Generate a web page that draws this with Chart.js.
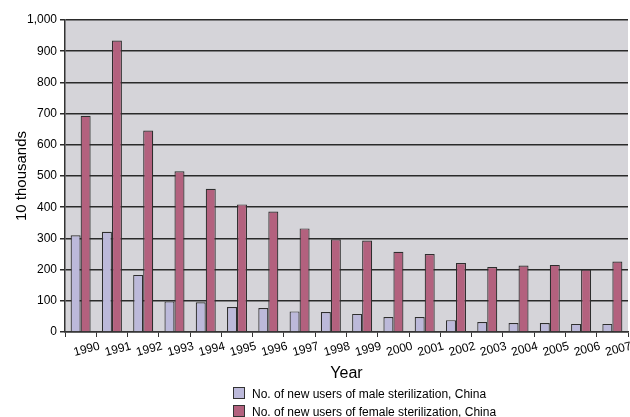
<!DOCTYPE html>
<html>
<head>
<meta charset="utf-8">
<script src="https://cdn.jsdelivr.net/npm/chart.js@4/dist/chart.umd.min.js"></script>
<style>
  html, body { margin: 0; padding: 0; background: #fff; }
  #wrap { position: relative; width: 630px; height: 417px; }
  #c { position: absolute; left: 0; top: 0; }
  .leg { position: absolute; left: 233px; font: 12px "Liberation Sans", Arial, sans-serif; color: #000; white-space: nowrap; }
  .leg span.box { display: inline-block; width: 10px; height: 10px; border: 1px solid #333; vertical-align: -1px; margin-right: 7px; }
</style>
</head>
<body>
<div id="wrap">
  <canvas id="c" width="630" height="417"></canvas>
  <div class="leg" id="leg1" style="top:387px"></div>
  <div class="leg" id="leg2" style="top:405px"></div>
</div>
<script>
const years = ["1990","1991","1992","1993","1994","1995","1996","1997","1998","1999","2000","2001","2002","2003","2004","2005","2006","2007"];
const maleUsers   = [310, 321, 183, 98, 95, 80, 77, 66, 64, 58, 48, 48, 38, 32, 29, 29, 26, 26];
const femaleUsers = [693, 934, 646, 515, 459, 409, 386, 332, 297, 293, 257, 250, 221, 208, 213, 215, 200, 226];
const maleLabel = "No. of new users of male sterilization, China";
const femaleLabel = "No. of new users of female sterilization, China";
const yTicks = [0, 100, 200, 300, 400, 500, 600, 700, 800, 900, 1000];

const maleColor = "#BCB9DA";
const femaleColor = "#B3617E";

const plotBg = {
  id: 'plotBg',
  beforeDraw(chart) {
    const {ctx, chartArea: a} = chart;
    ctx.save();
    ctx.fillStyle = '#D5D4D9';
    ctx.fillRect(a.left, a.top, a.right - a.left, a.bottom - a.top);
    ctx.restore();
  }
};

const FONT = '"Liberation Sans", Arial, sans-serif';

new Chart(document.getElementById('c'), {
  type: 'bar',
  data: {
    labels: years,
    datasets: [
      { label: maleLabel, data: maleUsers, backgroundColor: maleColor, borderColor: '#2e2e2e', borderWidth: 1.2, categoryPercentage: 0.64, barPercentage: 1.0 },
      { label: femaleLabel, data: femaleUsers, backgroundColor: femaleColor, borderColor: '#2e2e2e', borderWidth: 1.2, categoryPercentage: 0.64, barPercentage: 1.0 }
    ]
  },
  options: {
    responsive: false,
    animation: false,
    layout: { padding: { top: 20, right: 2, left: 0, bottom: 0 } },
    plugins: {
      legend: { display: false },
      tooltip: { enabled: false }
    },
    scales: {
      x: {
        grid: { display: true, drawOnChartArea: false, drawTicks: true, tickLength: 5, offset: true, color: '#333', lineWidth: 1 },
        border: { display: true, color: '#333', width: 1.5 },
        ticks: {
          color: '#000', font: { family: FONT, size: 12 },
          minRotation: 15, maxRotation: 15, autoSkip: false, labelOffset: 19, padding: 2
        },
        title: { display: true, text: 'Year', color: '#000', font: { family: FONT, size: 16 }, padding: { top: 0, bottom: 34 } },
        afterFit(scale) { scale.height = 85; }
      },
      y: {
        min: 0, max: 1000,
        afterBuildTicks(scale) { scale.ticks = yTicks.map(v => ({ value: v })); },
        grid: { color: '#2a2a2a', lineWidth: 1.5, tickLength: 5, drawTicks: true },
        border: { display: true, color: '#333', width: 1.5 },
        ticks: {
          color: '#000', font: { family: FONT, size: 12 }, padding: 3,
          callback: v => v.toLocaleString('en-US')
        },
        title: { display: true, text: '10 thousands', color: '#000', font: { family: FONT, size: 15 }, padding: { top: 13, bottom: 0 } },
        afterFit(scale) { scale.width = 65; }
      }
    }
  },
  plugins: [plotBg]
});

document.getElementById('leg1').innerHTML = '<span class="box" style="background:' + maleColor + '"></span>' + maleLabel;
document.getElementById('leg2').innerHTML = '<span class="box" style="background:' + femaleColor + '"></span>' + femaleLabel;
</script>
</body>
</html>
